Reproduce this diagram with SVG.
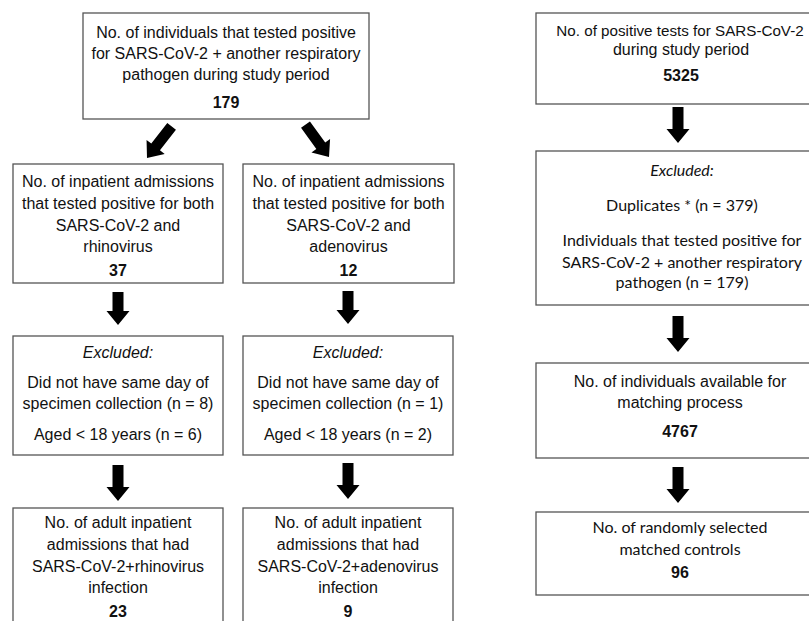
<svg xmlns="http://www.w3.org/2000/svg" width="809" height="621" viewBox="0 0 809 621">
<style>
.box{fill:#fff;stroke:#555;stroke-width:1.3}
.t{font-family:"Liberation Sans",Arial,sans-serif;font-size:16px;fill:#111;text-anchor:middle}
.b{font-weight:bold}
.i{font-style:italic}
.c{font-family:Lato,"Liberation Sans",sans-serif;font-size:16px;fill:#111;text-anchor:middle}
.arr{fill:#000}
</style>
<defs>
<path id="a33" d="M-5.5,-33 H5.5 V-14 H11.5 L0,0 L-11.5,-14 H-5.5 Z"/>
<path id="a36" d="M-5.5,-36 H5.5 V-14 H11.5 L0,0 L-11.5,-14 H-5.5 Z"/>
<path id="a40" d="M-5.5,-40 H5.5 V-14 H11.5 L0,0 L-11.5,-14 H-5.5 Z"/>
</defs>
<rect width="809" height="621" fill="#fff"/>

<g id="n_top">
<rect class="box" x="83" y="13" width="286" height="106"/>
<text class="t" x="226" y="37.5">No. of individuals that tested positive</text>
<text class="t" x="226" y="58.5">for SARS-CoV-2 + another respiratory</text>
<text class="t" x="226" y="79.5">pathogen during study period</text>
<text class="t b" x="226" y="108">179</text>
</g>

<g id="n_rhino">
<rect class="box" x="13" y="164" width="210" height="119"/>
<text class="t" x="118" y="187">No. of inpatient admissions</text>
<text class="t" x="118" y="209">that tested positive for both</text>
<text class="t" x="118" y="231">SARS-CoV-2 and</text>
<text class="t" x="118" y="252">rhinovirus</text>
<text class="t b" x="118" y="276">37</text>
</g>

<g id="n_adeno">
<rect class="box" x="243" y="164" width="211" height="119"/>
<text class="t" x="348.5" y="187">No. of inpatient admissions</text>
<text class="t" x="348.5" y="209">that tested positive for both</text>
<text class="t" x="348.5" y="231">SARS-CoV-2 and</text>
<text class="t" x="348.5" y="252">adenovirus</text>
<text class="t b" x="348.5" y="276">12</text>
</g>

<g id="n_exc_rhino">
<rect class="box" x="13" y="336" width="210" height="119"/>
<text class="t i" x="118" y="358">Excluded:</text>
<text class="t" x="118" y="388">Did not have same day of</text>
<text class="t" x="118" y="409">specimen collection (n = 8)</text>
<text class="t" x="118" y="440">Aged &lt; 18 years (n = 6)</text>
</g>

<g id="n_exc_adeno">
<rect class="box" x="243" y="336" width="210" height="119"/>
<text class="t i" x="348" y="358">Excluded:</text>
<text class="t" x="348" y="388">Did not have same day of</text>
<text class="t" x="348" y="409">specimen collection (n = 1)</text>
<text class="t" x="348" y="440">Aged &lt; 18 years (n = 2)</text>
</g>

<g id="n_adult_rhino">
<rect class="box" x="13" y="508" width="210" height="130"/>
<text class="t" x="118" y="528">No. of adult inpatient</text>
<text class="t" x="118" y="550">admissions that had</text>
<text class="t" x="118" y="571.5">SARS-CoV-2+rhinovirus</text>
<text class="t" x="118" y="593">infection</text>
<text class="t b" x="118" y="617">23</text>
</g>

<g id="n_adult_adeno">
<rect class="box" x="243" y="508" width="210" height="130"/>
<text class="t" x="348" y="528">No. of adult inpatient</text>
<text class="t" x="348" y="550">admissions that had</text>
<text class="t" x="348" y="571.5">SARS-CoV-2+adenovirus</text>
<text class="t" x="348" y="593">infection</text>
<text class="t b" x="348" y="617">9</text>
</g>

<g id="n_pos_tests">
<rect class="box" x="536" y="13" width="290" height="91"/>
<text class="t" x="680" y="35.5" style="font-size:15.2px">No. of positive tests for SARS-CoV-2</text>
<text class="t" x="681" y="54.5">during study period</text>
<text class="t b" x="681" y="81">5325</text>
</g>

<g id="n_excluded_r">
<rect class="box" x="536" y="151" width="290" height="154"/>
<text class="c i" x="682" y="176">Excluded:</text>
<text class="c" x="682" y="211">Duplicates * (n = 379)</text>
<text class="c" x="682" y="246">Individuals that tested positive for</text>
<text class="c" x="682" y="267.5">SARS-CoV-2 + another respiratory</text>
<text class="c" x="682" y="288">pathogen (n = 179)</text>
</g>

<g id="n_available">
<rect class="box" x="536" y="363" width="290" height="95"/>
<text class="t" x="680" y="386.5">No. of individuals available for</text>
<text class="t" x="680" y="407.5">matching process</text>
<text class="t b" x="680" y="437">4767</text>
</g>

<g id="n_controls">
<rect class="box" x="536" y="512" width="290" height="83"/>
<text class="c" x="680" y="533">No. of randomly selected</text>
<text class="c" x="680" y="555">matched controls</text>
<text class="t b" x="680" y="578">96</text>
</g>

<g id="connectors" class="arr">
<use href="#a40" transform="translate(147,158) rotate(38)"/>
<use href="#a40" transform="translate(329,157) rotate(-36)"/>
<use href="#a33" transform="translate(118,325)"/>
<use href="#a33" transform="translate(348,324)"/>
<use href="#a36" transform="translate(118,501)"/>
<use href="#a36" transform="translate(348,499)"/>
<use href="#a36" transform="translate(678,143)"/>
<use href="#a36" transform="translate(678,352)"/>
<use href="#a36" transform="translate(678,503)"/>
</g>
</svg>
